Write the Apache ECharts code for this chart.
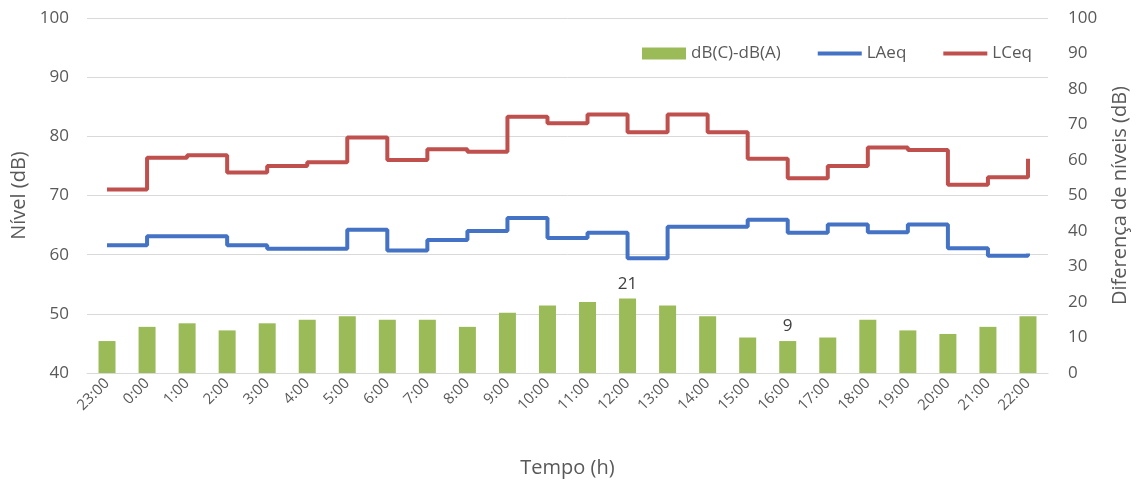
<!DOCTYPE html>
<html>
<head>
<meta charset="utf-8">
<title>Níveis</title>
<script src="https://cdn.jsdelivr.net/npm/echarts@6/dist/echarts.min.js"></script>
<style>
  html, body { margin: 0; padding: 0; background: #fff; }
  #chart { width: 1138px; height: 483px; }
</style>
</head>
<body>
<div id="chart"></div>
<script>
// categorias (horas)
var horas = ['23:00','0:00','1:00','2:00','3:00','4:00','5:00','6:00','7:00','8:00','9:00','10:00',
             '11:00','12:00','13:00','14:00','15:00','16:00','17:00','18:00','19:00','20:00','21:00','22:00'];
// dB(C)-dB(A) (eixo direito)
var diferenca = [9, 13, 14, 12, 14, 15, 16, 15, 15, 13, 17, 19, 20, 21, 19, 16, 10, 9, 10, 15, 12, 11, 13, 16];
// LAeq (eixo esquerdo)
var laeq = [61.6, 63.1, 63.1, 61.6, 61.0, 61.0, 64.2, 60.7, 62.5, 64.0, 66.2, 62.8,
            63.7, 59.4, 64.7, 64.7, 65.9, 63.7, 65.1, 63.8, 65.1, 61.1, 59.8, 60.2];
// LCeq (eixo esquerdo)
var lceq = [71.0, 76.4, 76.8, 73.9, 75.0, 75.6, 79.8, 76.0, 77.8, 77.4, 83.3, 82.2,
            83.7, 80.7, 83.7, 80.7, 76.2, 72.9, 75.0, 78.1, 77.7, 71.8, 73.1, 76.2];
// só estes valores têm rótulo
var rotulados = [13, 17];

var txt = '#595959';
var fonte = '"Open Sans", "Noto Sans", sans-serif';
// ícone de linha fina para a legenda (caixa 44x12, traço de 4px no meio)
var iconeLinha = 'path://M0,0M0,4L44,4L44,8L0,8ZM44,12';

var barData = diferenca.map(function (v, i) {
  if (rotulados.indexOf(i) >= 0) {
    return { value: v, label: { show: true, position: 'top', distance: 6, color: '#404040', fontSize: 17, fontFamily: fonte } };
  }
  return v;
});

var myChart = echarts.init(document.getElementById('chart'));
myChart.setOption({
  animation: false,
  textStyle: { fontFamily: fonte, color: txt },
  grid: { left: 87, right: 85, top: 18, bottom: 108 },
  legend: {
    left: 637,
    top: 40,
    itemWidth: 44,
    itemHeight: 12,
    itemGap: 37,
    symbolKeepAspect: false,
    textStyle: { color: txt, fontSize: 17, fontFamily: fonte },
    data: [
      { name: 'dB(C)-dB(A)', icon: 'rect' },
      { name: 'LAeq', icon: iconeLinha },
      { name: 'LCeq', icon: iconeLinha }
    ]
  },
  xAxis: {
    type: 'category',
    data: horas,
    boundaryGap: true,
    name: 'Tempo (h)',
    nameLocation: 'middle',
    nameGap: 85,
    nameTextStyle: { color: txt, fontSize: 20 },
    axisLine: { lineStyle: { color: '#d9d9d9' } },
    axisTick: { length: 5, lineStyle: { color: '#d9d9d9' } },
    axisLabel: { rotate: 45, color: txt, fontSize: 15, margin: 8, interval: 0 }
  },
  yAxis: [
    {
      type: 'value',
      min: 40, max: 100, interval: 10,
      name: 'Nível (dB)',
      nameLocation: 'middle',
      nameGap: 57,
      nameTextStyle: { color: txt, fontSize: 20 },
      axisLine: { show: false },
      axisTick: { show: false },
      axisLabel: { color: txt, fontSize: 17, margin: 18 },
      splitLine: { lineStyle: { color: '#d9d9d9' } }
    },
    {
      type: 'value',
      min: 0, max: 100, interval: 10,
      name: 'Diferença de níveis (dB)',
      nameLocation: 'middle',
      nameGap: 62,
      nameTextStyle: { color: txt, fontSize: 20 },
      axisLine: { show: false },
      axisTick: { show: false },
      axisLabel: { color: txt, fontSize: 17, margin: 20 },
      splitLine: { show: false }
    }
  ],
  series: [
    {
      name: 'dB(C)-dB(A)',
      type: 'bar',
      yAxisIndex: 1,
      barWidth: 17,
      itemStyle: { color: '#9BBB59' },
      data: barData
    },
    {
      name: 'LAeq',
      type: 'line',
      yAxisIndex: 0,
      step: 'end',
      symbol: 'none',
      lineStyle: { color: '#4472C4', width: 4 },
      itemStyle: { color: '#4472C4' },
      data: laeq
    },
    {
      name: 'LCeq',
      type: 'line',
      yAxisIndex: 0,
      step: 'end',
      symbol: 'none',
      lineStyle: { color: '#C0504D', width: 4 },
      itemStyle: { color: '#C0504D' },
      data: lceq
    }
  ]
});
</script>
</body>
</html>
